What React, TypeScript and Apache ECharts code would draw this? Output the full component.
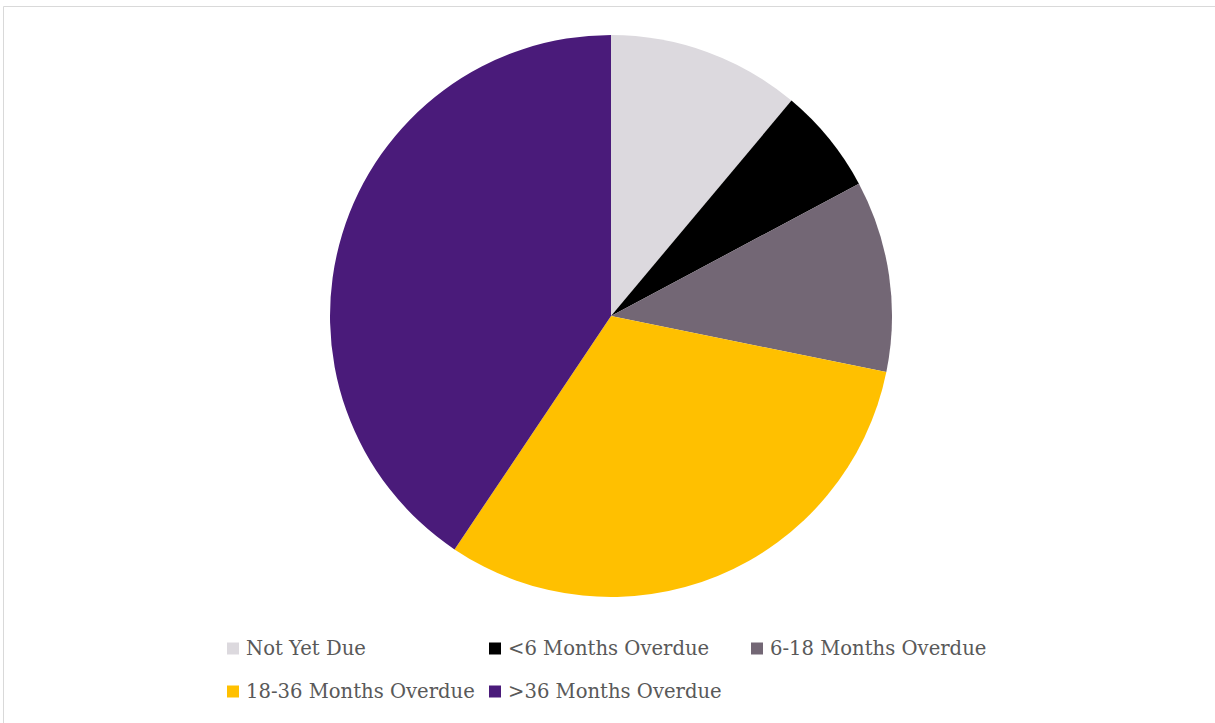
import React, { useEffect, useRef } from "react";
import * as echarts from "echarts";

const categories = ["Not Yet Due", "<6 Months Overdue", "6-18 Months Overdue", "18-36 Months Overdue", ">36 Months Overdue"];
const values = [11.1, 6.1, 11.0, 31.2, 40.6];
const colors = ["#DCD9DE", "#000000", "#736775", "#FFC000", "#4A1B7A"];

export default function App() {
  const ref = useRef<HTMLDivElement>(null);
  useEffect(() => {
    const chart = echarts.init(ref.current!, null, { renderer: "svg" });
    chart.setOption({
      animation: false,
      backgroundColor: "#ffffff",
      graphic: [
        {
          type: "rect",
          shape: { x: 3.5, y: 6.5, width: 1300, height: 800 },
          style: { fill: "none", stroke: "#D9D9D9", lineWidth: 1 },
          silent: true,
        },
      ],
      legend: {
        left: 227,
        top: 627,
        width: 800,
        padding: 0,
        orient: "horizontal",
        itemWidth: 12,
        itemHeight: 12,
        itemGap: 0,
        icon: "rect",
        data: categories,
        textStyle: {
          fontFamily: "DejaVu Serif",
          fontSize: 19.6,
          color: "#595959",
          width: 243,
          padding: [0, 0, 0, 2],
          lineHeight: 43,
        },
      },
      series: [
        {
          type: "pie",
          center: [611, 316],
          radius: 281,
          startAngle: 90,
          clockwise: true,
          label: { show: false },
          labelLine: { show: false },
          itemStyle: { borderWidth: 0 },
          data: categories.map((name, i) => ({ name, value: values[i], itemStyle: { color: colors[i] } })),
        },
      ],
    });
    return () => chart.dispose();
  }, []);
  return <div ref={ref} style={{ position: "fixed", left: 0, top: 0, width: 1215, height: 723 }} />;
}
